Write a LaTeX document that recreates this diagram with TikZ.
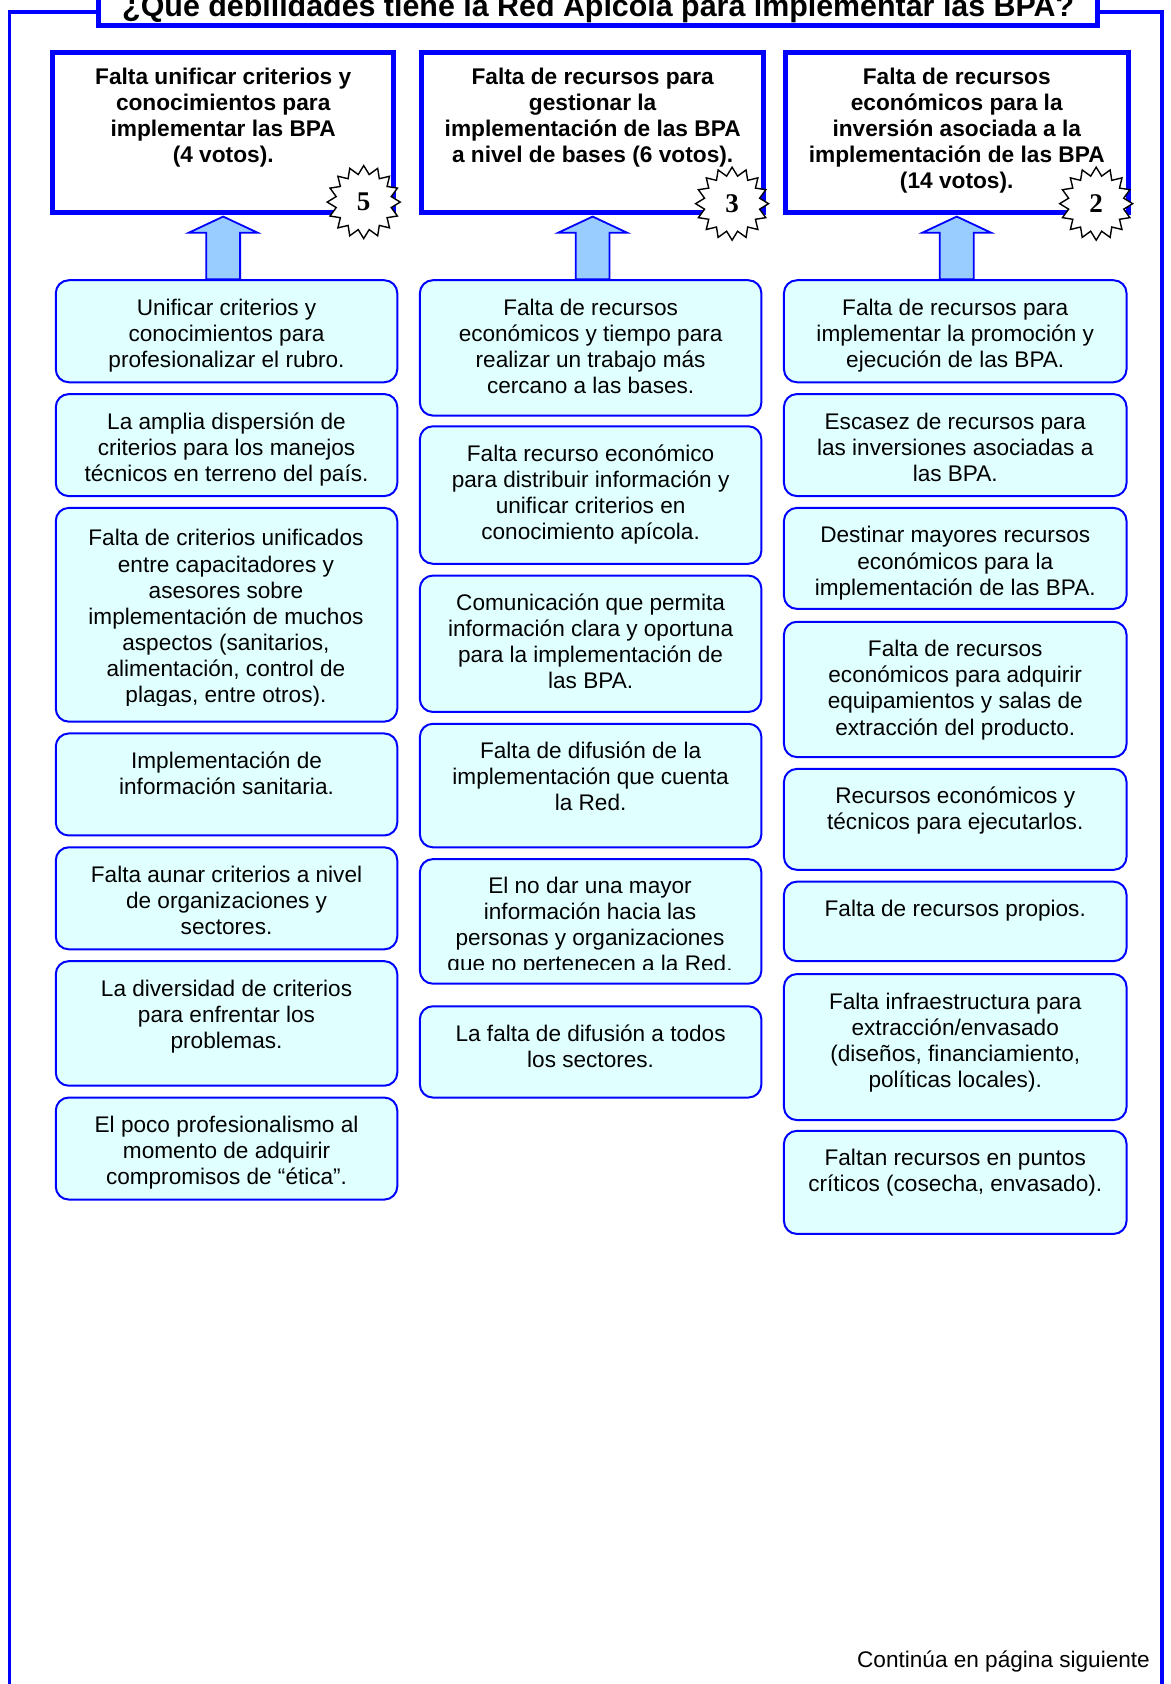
\documentclass[tikz,border=0pt]{standalone}
\usepackage{fontspec}
\setmainfont{Liberation Sans}
\newfontfamily\numfont{Liberation Serif}
\usetikzlibrary{shapes.geometric,calc}

\definecolor{lineblue}{RGB}{0,0,255}
\definecolor{cellfill}{RGB}{224,255,255}
\definecolor{arrowfill}{RGB}{153,204,255}

% A box whose text starts at the top: [first-baseline offset]{style}{name}{x1}{y1}{x2}{y2}{text}
\newcommand{\boxat}[8][17.5pt]{%
  \pgfmathsetlengthmacro{\bw}{(#6-#4)*0.53716pt}%
  \pgfmathsetlengthmacro{\bh}{(#7-#5)*0.53716pt}%
  \node[#2] (#3) at (#4,#5)
    {\parbox[t][\bh][t]{\bw}{\centering\rule{0pt}{#1}#8}};%
}

\tikzset{
  outerrule/.style={draw=lineblue, line width=1.7pt},
  titlerule/.style={draw=lineblue, line width=2.6pt, fill=white},
  titletext/.style={inner sep=0pt, anchor=base,
    font=\bfseries\fontsize{15.2pt}{18pt}\selectfont},
  headbox/.style={draw=lineblue, line width=2.5pt, fill=white, inner sep=0pt,
    anchor=north west, font=\bfseries\fontsize{11.35pt}{13pt}\selectfont},
  cellbox/.style={draw=lineblue, line width=1pt, fill=cellfill,
    rounded corners=6.5pt, inner sep=0pt, anchor=north west,
    font=\fontsize{11.3pt}{13.05pt}\selectfont},
  celltext/.style={inner sep=0pt, anchor=north west,
    font=\fontsize{11.3pt}{13.05pt}\selectfont},
  blockarrow/.style={draw=lineblue, line width=0.9pt, fill=arrowfill, line join=miter},
  burst/.style={star, star points=16, star point ratio=1.3, draw=black,
    line width=0.7pt, fill=white, minimum size=36.5pt, inner sep=0pt,
    font=\numfont\bfseries\fontsize{13.5pt}{13.5pt}\selectfont},
  foot/.style={inner sep=0pt, anchor=base east,
    font=\fontsize{11.3pt}{13pt}\selectfont}
}

\begin{document}
\begin{tikzpicture}[x=0.53716pt, y=-0.53716pt]
\useasboundingbox (0,0) rectangle (1090,1568);
\fill[white] (0,0) rectangle (1090,1568);

% outer frame and title
\draw[outerrule] (92,11) -- (9,11) -- (9,1600);
\draw[outerrule] (1022,11) -- (1082,11) -- (1082,1600);
\draw[titlerule] (92,-40) rectangle (1022,24);
\node[titletext] (title) at (557,15)
  {¿Qué debilidades tiene la Red Apícola para implementar las BPA?};

% header boxes
\boxat[15.8pt]{headbox}{h1}{47}{47}{364}{196}
  {Falta unificar criterios y\\conocimientos para\\implementar las BPA\\(4 votos).}
\boxat[15.8pt]{headbox}{h2}{390}{47}{709}{196}
  {Falta de recursos para\\gestionar la\\implementación de las BPA\\a nivel de bases (6 votos).}
\boxat[15.8pt]{headbox}{h3}{729}{47}{1048}{196}
  {Falta de recursos\\económicos para la\\inversión asociada a la\\implementación de las BPA\\(14 votos).}

% column 1
\boxat{cellbox}{c11}{51}{260}{369}{355}
  {Unificar criterios y\\conocimientos para\\profesionalizar el rubro.}
\boxat{cellbox}{c12}{51}{366}{369}{461}
  {La amplia dispersión de\\criterios para los manejos\\técnicos en terreno del país.}
\boxat[19.3pt]{cellbox}{c13}{51}{472}{369}{671}{}
\begin{scope}
  \clip (51,472) rectangle (369,656.5);
  \boxat[19.3pt]{celltext}{c13t}{51}{472}{369}{671}
    {Falta de criterios unificados\\entre capacitadores y\\asesores sobre\\implementación de muchos\\aspectos (sanitarios,\\alimentación, control de\\plagas, entre otros).}
\end{scope}
\boxat{cellbox}{c14}{51}{682}{369}{777}
  {Implementación de\\información sanitaria.}
\boxat{cellbox}{c15}{51}{788}{369}{883}
  {Falta aunar criterios a nivel\\de organizaciones y\\sectores.}
\boxat{cellbox}{c16}{51}{894}{369}{1010}
  {La diversidad de criterios\\para enfrentar los\\problemas.}
\boxat{cellbox}{c17}{51}{1021}{369}{1116}
  {El poco profesionalismo al\\momento de adquirir\\compromisos de “ética”.}

% column 2
\boxat{cellbox}{c21}{390}{260}{708}{386}
  {Falta de recursos\\económicos y tiempo para\\realizar un trabajo más\\cercano a las bases.}
\boxat{cellbox}{c22}{390}{396}{708}{524}
  {Falta recurso económico\\para distribuir información y\\unificar criterios en\\conocimiento apícola.}
\boxat{cellbox}{c23}{390}{535}{708}{662}
  {Comunicación que permita\\información clara y oportuna\\para la implementación de\\las BPA.}
\boxat{cellbox}{c24}{390}{673}{708}{788}
  {Falta de difusión de la\\implementación que cuenta\\la Red.}
\boxat{cellbox}{c25}{390}{799}{708}{915}{}
\begin{scope}
  \clip (390,799) rectangle (708,902.5);
  \boxat{celltext}{c25t}{390}{799}{708}{915}
    {El no dar una mayor\\información hacia las\\personas y organizaciones\\que no pertenecen a la Red.}
\end{scope}
\boxat{cellbox}{c26}{390}{936}{708}{1021}
  {La falta de difusión a todos\\los sectores.}

% column 3
\boxat{cellbox}{c31}{729}{260}{1048}{355}
  {Falta de recursos para\\implementar la promoción y\\ejecución de las BPA.}
\boxat{cellbox}{c32}{729}{366}{1048}{461}
  {Escasez de recursos para\\las inversiones asociadas a\\las BPA.}
\boxat{cellbox}{c33}{729}{472}{1048}{566}
  {Destinar mayores recursos\\económicos para la\\implementación de las BPA.}
\boxat{cellbox}{c34}{729}{578}{1048}{704}
  {Falta de recursos\\económicos para adquirir\\equipamientos y salas de\\extracción del producto.}
\boxat{cellbox}{c35}{729}{715}{1048}{809}
  {Recursos económicos y\\técnicos para ejecutarlos.}
\boxat{cellbox}{c36}{729}{820}{1048}{894}
  {Falta de recursos propios.}
\boxat{cellbox}{c37}{729}{906}{1048}{1042}
  {Falta infraestructura para\\extracción/envasado\\(diseños, financiamiento,\\políticas locales).}
\boxat{cellbox}{c38}{729}{1052}{1048}{1148}
  {Faltan recursos en puntos\\críticos (cosecha, envasado).}

% block arrows from the first box of each column up to its header
\foreach \h/\c in {h1/c11, h2/c21, h3/c31}{
  \draw[blockarrow] ($(\h.south)+(0,1)$) -- ++(32,15) -- ++(-16.25,0)
    -- ($(\h.south |- \c.north)+(15.75,0)$) -- ++(-31.5,0)
    -- ($(\h.south)+(-15.75,16)$) -- ++(-16.25,0) -- cycle;
}

% rank bursts
\node[burst] (s1) at ($(h1.south east)+(-30,-12.5)$) {5};
\node[burst] (s2) at ($(h2.south east)+(-32,-11)$) {3};
\node[burst] (s3) at ($(h3.south east)+(-32,-11)$) {2};

\node[foot] (cont) at (1071,1553) {Continúa en página siguiente};
\end{tikzpicture}
\end{document}
